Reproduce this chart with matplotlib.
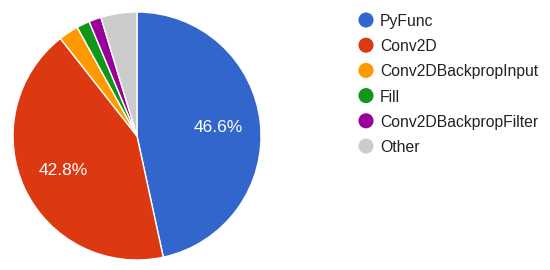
import matplotlib
matplotlib.use("Agg")
import matplotlib.pyplot as plt

labels = ["PyFunc", "Conv2D", "Conv2DBackpropInput", "Fill", "Conv2DBackpropFilter", "Other"]
values = [46.6, 42.8, 2.6, 1.7, 1.6, 4.7]
colors = ["#3366cc", "#dc3912", "#ff9900", "#109618", "#990099", "#cccccc"]

plt.rcParams['font.family'] = ['Liberation Sans', 'DejaVu Sans']

W, H = 550, 270
fig = plt.figure(figsize=(W / 100, H / 100), dpi=100)

# pie axes: center (137,136) px, radius 124 px
cx, cy, r = 137, 136, 124
ax = fig.add_axes([(cx - r) / W, (H - cy - r) / H, 2 * r / W, 2 * r / H])

def fmt(p):
    return f"{p:.1f}%" if p > 10 else ""

wedges, texts, autotexts = ax.pie(
    values, colors=colors, startangle=90, counterclock=False,
    autopct=fmt, pctdistance=0.66, radius=1.0,
    wedgeprops=dict(edgecolor="white", linewidth=1.0),
    textprops=dict(color="white", fontsize=12.5),
)
ax.set_xlim(-1.0, 1.0)
ax.set_ylim(-1.0, 1.0)
ax.set_aspect("auto")
ax.axis("off")

# legend drawn in pixel coordinates
lax = fig.add_axes([0, 0, 1, 1])
lax.set_xlim(0, W)
lax.set_ylim(H, 0)
lax.axis("off")
for i, (lab, col) in enumerate(zip(labels, colors)):
    y = 20 + 25.2 * i
    lax.scatter([366], [y], s=118, color=col, edgecolors="none")
    lax.text(380, y, lab, va="center_baseline", ha="left", fontsize=11.3, color="#222222")

fig.savefig("out.png", dpi=100)
